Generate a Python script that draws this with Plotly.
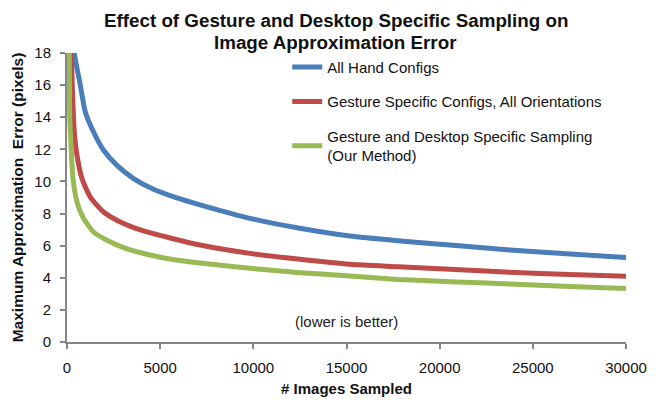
import plotly.graph_objects as go

# Data (x = # images sampled, y = max approximation error in pixels)
blue_x = [200, 392, 714, 982, 1427, 1964, 2683, 3573, 4646, 5900, 7135, 9820, 12500, 15180, 17760, 20550, 23770, 26990, 30000]
blue_y = [22, 18, 16, 14.33, 13.08, 11.94, 11.0, 10.18, 9.51, 8.97, 8.54, 7.7, 7.08, 6.6, 6.31, 6.04, 5.73, 5.48, 5.26]

red_x = [100, 230, 300, 392, 536, 805, 1250, 1964, 2860, 4110, 5540, 7135, 9820, 12500, 15180, 17760, 20550, 23770, 26990, 30000]
red_y = [22, 18, 15.37, 13.08, 11.63, 10.18, 9.03, 8.1, 7.48, 6.92, 6.48, 6.04, 5.52, 5.15, 4.84, 4.69, 4.53, 4.34, 4.2, 4.1]

green_x = [60, 123, 140, 215, 322, 536, 890, 1427, 2146, 3036, 4450, 5770, 7135, 9820, 12500, 15180, 17760, 20550, 23770, 26990, 30000]
green_y = [22, 18, 14.33, 12.25, 10.18, 8.72, 7.69, 6.85, 6.34, 5.88, 5.42, 5.12, 4.92, 4.59, 4.32, 4.11, 3.9, 3.76, 3.61, 3.45, 3.33]

series_names = [
    "All Hand Configs",
    "Gesture Specific Configs, All Orientations",
    "Gesture and Desktop Specific Sampling<br>(Our Method)",
]
colors = ["#4A7EBB", "#BE4B48", "#98B954"]

title_lines = ["Effect of Gesture and Desktop Specific Sampling on", "Image Approximation Error"]

x_ticks = [0, 5000, 10000, 15000, 20000, 25000, 30000]
y_ticks = [0, 2, 4, 6, 8, 10, 12, 14, 16, 18]

FONT = "Liberation Sans, Arial, Helvetica, sans-serif"

fig = go.Figure()
for i, (xs, ys) in enumerate([(blue_x, blue_y), (red_x, red_y), (green_x, green_y)]):
    fig.add_trace(go.Scatter(
        x=xs, y=ys, mode="lines", name=series_names[i],
        line=dict(color=colors[i], width=5, shape="spline", smoothing=0.6),
        legendgroup=f"g{i}",
    ))

# two-line chart title (tight line spacing as in the reference)
for line, ypos in zip(title_lines, [1.112, 1.038]):
    fig.add_annotation(xref="paper", yref="paper", x=0.481, y=ypos, xanchor="center", yanchor="middle",
                       text=f"<b>{line}</b>", showarrow=False,
                       font=dict(family=FONT, size=18.8, color="#111"))

fig.add_annotation(x=15000, y=1.25, text="(lower is better)", showarrow=False,
                   font=dict(family=FONT, size=15, color="#222"))

fig.update_layout(
    width=665, height=403,
    margin=dict(l=67, r=39, t=53, b=61, autoexpand=False),
    paper_bgcolor="white", plot_bgcolor="white",
    font=dict(family=FONT, color="#111"),
    showlegend=True,
    legend=dict(
        x=0.394, y=1.008, xanchor="left", yanchor="top",
        bgcolor="rgba(0,0,0,0)", font=dict(family=FONT, size=15, color="#111"),
        tracegroupgap=12,
    ),
    xaxis=dict(
        range=[0, 30000], tickvals=x_ticks, ticktext=[str(v) for v in x_ticks],
        showgrid=False, zeroline=False, showline=True, linecolor="#878787", linewidth=2,
        ticks="outside", ticklen=5, tickwidth=2, tickcolor="#878787",
        tickfont=dict(family=FONT, size=15, color="#111"),
        ticklabelstandoff=6, automargin=False,
        title=dict(text="<b># Images Sampled</b>", font=dict(family=FONT, size=15, color="#111"), standoff=8),
    ),
    yaxis=dict(
        range=[0, 18], tickvals=y_ticks,
        showgrid=False, zeroline=False, showline=True, linecolor="#878787", linewidth=2,
        ticks="outside", ticklen=5, tickwidth=2, tickcolor="#878787",
        tickfont=dict(family=FONT, size=15, color="#111"),
        ticklabelstandoff=6, automargin=False,
        title=dict(text="<b>Maximum Approximation  Error (pixels)</b>", font=dict(family=FONT, size=15.5, color="#111"), standoff=7),
    ),
)

fig.write_html("out.html", config={"displayModeBar": False},
               post_script="document.body.style.margin='0';document.body.style.padding='0';")
